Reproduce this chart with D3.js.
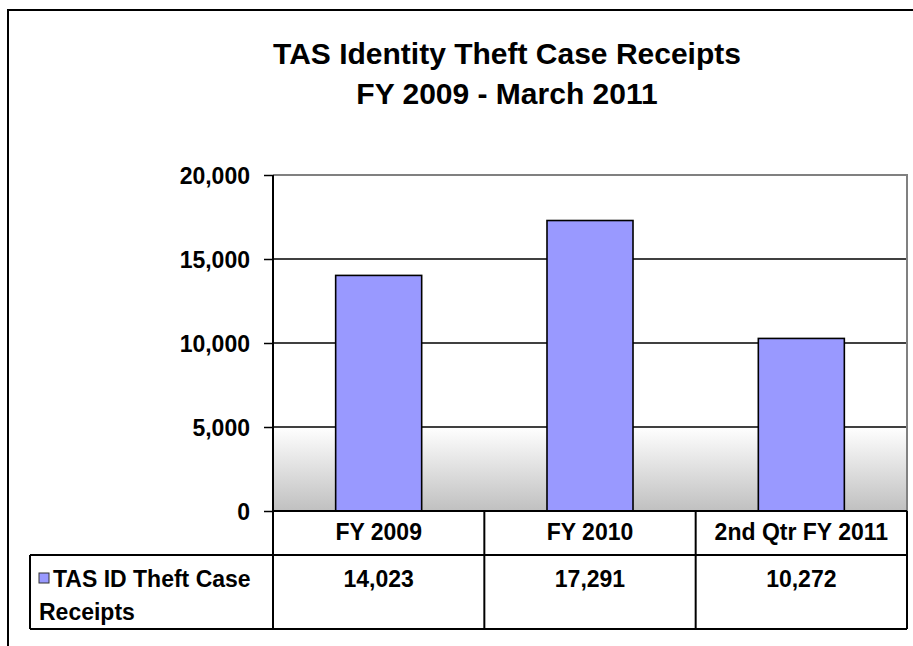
<!DOCTYPE html>
<html>
<head>
<meta charset="utf-8">
<script src="https://cdn.jsdelivr.net/npm/d3@7"></script>
<style>
  html, body { margin: 0; padding: 0; background: #fff; }
  svg { display: block; }
  text { font-family: "Liberation Sans", Arial, sans-serif; font-weight: bold; fill: #000; }
</style>
</head>
<body>
<svg id="chart" width="913" height="646"></svg>
<script>
const titleLines = ["TAS Identity Theft Case Receipts", "FY 2009 - March 2011"];
const categories = ["FY 2009", "FY 2010", "2nd Qtr FY 2011"];
const seriesName = ["TAS ID Theft Case", "Receipts"];
const values = [14023, 17291, 10272];
const yTicks = [0, 5000, 10000, 15000, 20000];

const svg = d3.select("#chart");
const W = 913, H = 646;
const plot = { left: 273, right: 907, top: 175, bottom: 511 };
const table = { left: 30, headerBottom: 555, bottom: 629 };
const FS = 23;

// gradient
const defs = svg.append("defs");
const grad = defs.append("linearGradient").attr("id", "bgGrad")
  .attr("x1", 0).attr("y1", 0).attr("x2", 0).attr("y2", 1);
grad.append("stop").attr("offset", "0%").attr("stop-color", "#ffffff");
grad.append("stop").attr("offset", "100%").attr("stop-color", "#c0c0c0");

// outer frame (cropped on right and bottom)
svg.append("path")
  .attr("d", `M8,${H + 5} L8,10 L${W + 5},10`)
  .attr("fill", "none").attr("stroke", "#000").attr("stroke-width", 2);

// title
svg.selectAll(".title").data(titleLines).join("text")
  .attr("class", "title")
  .attr("x", 507)
  .attr("y", (d, i) => 64 + i * 40)
  .attr("text-anchor", "middle")
  .attr("font-size", 30)
  .text(d => d);

const y = d3.scaleLinear().domain([0, 20000]).range([plot.bottom, plot.top]);
const x = d3.scaleBand().domain(categories).range([plot.left, plot.right]).padding(0);
const barW = x.bandwidth() * 0.407;

// gradient background below 5000
svg.append("rect")
  .attr("x", plot.left).attr("y", y(5000))
  .attr("width", plot.right - plot.left).attr("height", y(0) - y(5000))
  .attr("fill", "url(#bgGrad)");

// gridlines
svg.selectAll(".grid").data(yTicks.filter(d => d > 0)).join("line")
  .attr("class", "grid")
  .attr("x1", plot.left).attr("x2", plot.right)
  .attr("y1", d => y(d)).attr("y2", d => y(d))
  .attr("stroke", d => d === 20000 ? "#808080" : "#000")
  .attr("stroke-width", d => d === 20000 ? 2 : 1.3);

// right border of plot
svg.append("line")
  .attr("x1", plot.right).attr("x2", plot.right)
  .attr("y1", plot.top - 1).attr("y2", plot.bottom)
  .attr("stroke", "#808080").attr("stroke-width", 2);

// bars
svg.selectAll(".bar").data(values).join("rect")
  .attr("class", "bar")
  .attr("x", (d, i) => x(categories[i]) + (x.bandwidth() - barW) / 2)
  .attr("y", d => y(d))
  .attr("width", barW)
  .attr("height", d => y(0) - y(d))
  .attr("fill", "#9999ff")
  .attr("stroke", "#000").attr("stroke-width", 1.6);

// y axis
const yAxis = d3.axisLeft(y).tickValues(yTicks).tickSize(9).tickPadding(14)
  .tickFormat(d3.format(","));
const gy = svg.append("g").attr("transform", `translate(${plot.left},0)`).call(yAxis);
gy.select(".domain").remove();
gy.selectAll(".tick line").attr("stroke", "#000").attr("stroke-width", 1.5);
gy.selectAll(".tick text").attr("font-size", FS).attr("font-family", "Liberation Sans, Arial, sans-serif")
  .attr("font-weight", "bold").attr("fill", "#000").attr("dy", "0.36em");
svg.append("line")
  .attr("x1", plot.left).attr("x2", plot.left)
  .attr("y1", plot.top).attr("y2", table.bottom)
  .attr("stroke", "#000").attr("stroke-width", 2);

// x axis line
svg.append("line")
  .attr("x1", plot.left).attr("x2", plot.right)
  .attr("y1", plot.bottom).attr("y2", plot.bottom)
  .attr("stroke", "#000").attr("stroke-width", 2);

// data table lines
const tbl = svg.append("g").attr("stroke", "#000").attr("stroke-width", 2);
tbl.append("line").attr("x1", table.left).attr("x2", plot.right)
  .attr("y1", table.headerBottom).attr("y2", table.headerBottom);
tbl.append("line").attr("x1", table.left).attr("x2", plot.right)
  .attr("y1", table.bottom).attr("y2", table.bottom);
tbl.append("line").attr("x1", table.left).attr("x2", table.left)
  .attr("y1", table.headerBottom).attr("y2", table.bottom);
tbl.selectAll(".sep").data(categories).join("line")
  .attr("x1", d => x(d) + x.bandwidth()).attr("x2", d => x(d) + x.bandwidth())
  .attr("y1", plot.bottom).attr("y2", table.bottom);

// category labels
svg.selectAll(".cat").data(categories).join("text")
  .attr("class", "cat")
  .attr("x", d => x(d) + x.bandwidth() / 2)
  .attr("y", 540)
  .attr("text-anchor", "middle")
  .attr("font-size", FS)
  .text(d => d);

// value labels
svg.selectAll(".val").data(values).join("text")
  .attr("class", "val")
  .attr("x", (d, i) => x(categories[i]) + x.bandwidth() / 2)
  .attr("y", 587)
  .attr("text-anchor", "middle")
  .attr("font-size", FS)
  .text(d => d3.format(",")(d));

// legend key
svg.append("rect")
  .attr("x", 39).attr("y", 573).attr("width", 10).attr("height", 10)
  .attr("fill", "#9999ff").attr("stroke", "#333").attr("stroke-width", 1);
svg.selectAll(".leg").data(seriesName).join("text")
  .attr("class", "leg")
  .attr("x", (d, i) => i === 0 ? 53 : 39)
  .attr("y", (d, i) => 587 + i * 33)
  .attr("font-size", FS)
  .text(d => d);
</script>
</body>
</html>
